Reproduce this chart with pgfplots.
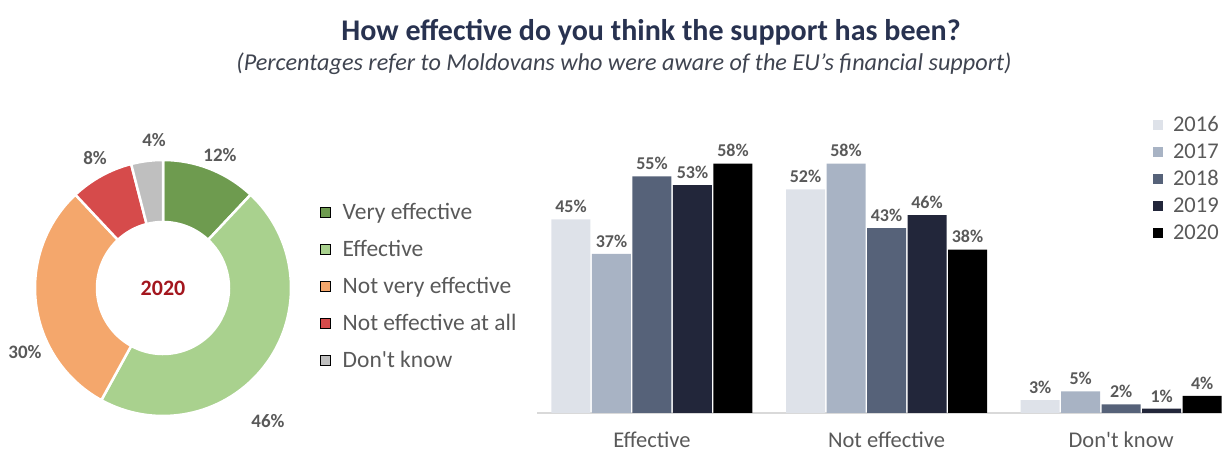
\documentclass[border=0pt]{standalone}
\usepackage{pgfplots}
\usepackage{pgfplotstable}
\pgfplotsset{compat=1.18}
\usepackage{fontspec}
\setmainfont{Carlito}
\definecolor{titlec}{HTML}{283250}
\definecolor{subc}{HTML}{3F4450}
\definecolor{labc}{HTML}{595959}
\definecolor{legc}{HTML}{595959}
\definecolor{cVE}{HTML}{6E9B4F}
\definecolor{cE}{HTML}{A9D18E}
\definecolor{cNV}{HTML}{F4A76C}
\definecolor{cNA}{HTML}{D64B4B}
\definecolor{cDK}{HTML}{BFBFBF}
\definecolor{yr}{HTML}{A3161E}
\definecolor{b16}{HTML}{DEE2E9}
\definecolor{b17}{HTML}{A8B3C4}
\definecolor{b18}{HTML}{566279}
\definecolor{b19}{HTML}{22263A}
\definecolor{b20}{HTML}{000000}
\definecolor{axc}{HTML}{D9D9D9}

\pgfplotstableread{
x y16 y17 y18 y19 y20
0 45 37 55 53 58
1 52 58 43 46 38
2 3 5 2 1 4
}\bardata

% donut shares (2020)
\def\pVE{12}\def\pE{46}\def\pNV{30}\def\pNA{8}\def\pDK{4}
\pgfmathsetmacro\aA{90}
\pgfmathsetmacro\aB{\aA-3.6*\pVE}
\pgfmathsetmacro\aC{\aB-3.6*\pE}
\pgfmathsetmacro\aD{\aC-3.6*\pNV}
\pgfmathsetmacro\aE{\aD-3.6*\pNA}
\pgfmathsetmacro\aF{\aE-3.6*\pDK}
\def\Rout{128}\def\Rin{66}
\newcommand\donutwedge[3]{%
  \fill[#3, draw=white, line width=2.5pt] (axis cs:{\Rout*cos(#1)},{\Rout*sin(#1)})
    arc[start angle=#1, end angle=#2, radius=\Rout pt]
    -- (axis cs:{\Rin*cos(#2)},{\Rin*sin(#2)})
    arc[start angle=#2, end angle=#1, radius=\Rin pt] -- cycle;}

\begin{document}
\begin{tikzpicture}
\useasboundingbox (0,0) rectangle (1225pt,454pt);
\node[font=\fontsize{30}{34}\selectfont\bfseries, text=titlec] at (651pt,422pt) {How effective do you think the support has been?};
\node[font=\fontsize{24.2}{28}\selectfont\itshape, text=subc] at (624pt,390pt) {(Percentages refer to Moldovans who were aware of the EU’s financial support)};

% donut
\begin{axis}[at={(163pt,166pt)}, anchor=center, hide axis, scale only axis,
  x=1pt, y=1pt, xmin=-140, xmax=140, ymin=-140, ymax=140, clip=false,
  legend image code/.code={\fill[#1] (0pt,-5pt) rectangle (10pt,5pt);},
  legend style={at={(axis description cs:1.061,0.811)}, anchor=north west, draw=none, fill=none,
    font=\fontsize{23.5}{26}\selectfont, text=legc, row sep=15.3pt, inner sep=0pt,
    /tikz/every odd column/.append style={column sep=10pt}},
  legend cell align=left]
\addlegendimage{fill=cVE}\addlegendentry{Very effective}
\addlegendimage{fill=cE}\addlegendentry{Effective}
\addlegendimage{fill=cNV}\addlegendentry{Not very effective}
\addlegendimage{fill=cNA}\addlegendentry{Not effective at all}
\addlegendimage{fill=cDK}\addlegendentry{Don\textquotesingle t know}
\donutwedge{\aA}{\aB}{cVE}
\donutwedge{\aB}{\aC}{cE}
\donutwedge{\aC}{\aD}{cNV}
\donutwedge{\aD}{\aE}{cNA}
\donutwedge{\aE}{\aF}{cDK}
\node[font=\fontsize{22}{26}\selectfont\bfseries, text=yr] at (axis cs:0,0) {2020};
\begin{scope}[every node/.style={font=\fontsize{19}{22}\selectfont\bfseries, text=labc}]
\node at (axis cs:57,133) {\pVE\%};
\node at (axis cs:105,-133) {\pE\%};
\node at (axis cs:-138,-64) {\pNV\%};
\node at (axis cs:-68,130) {\pNA\%};
\node at (axis cs:-9,148) {\pDK\%};
\end{scope}
\end{axis}

% bars
\begin{axis}[at={(537pt,41pt)}, anchor=south west, scale only axis,
  width=685pt, height=258pt, xmin=-0.49, xmax=2.43, ymin=0, ymax=60,
  axis x line*=bottom, axis y line=none,
  x axis line style={draw=axc, line width=1.2pt, -},
  xtick={0,1,2}, xticklabels={Effective, Not effective, Don\textquotesingle t know},
  major tick length=0pt,
  xticklabel style={font=\fontsize{22.5}{26}\selectfont, text=legc, yshift=-15pt},
  ybar=1.5pt, bar width=39pt, clip=false,
  /pgf/number format/assume math mode=true,
  nodes near coords={\pgfmathprintnumber{\pgfplotspointmeta}\%},
  every node near coord/.append style={font=\fontsize{18}{21}\selectfont\bfseries, text=labc, yshift=3pt},
  legend image code/.code={\fill[#1] (0pt,-5pt) rectangle (10pt,5pt);},
  legend style={at={(axis description cs:0.899,1.158)}, anchor=north west, draw=none, fill=none,
    font=\fontsize{22.5}{26}\selectfont, text=legc, row sep=6.7pt, inner sep=0pt,
    /tikz/every odd column/.append style={column sep=8pt}},
  legend cell align=left]
\addplot[fill=b16, draw=none] table[x=x, y=y16] {\bardata};
\addplot[fill=b17, draw=none] table[x=x, y=y17] {\bardata};
\addplot[fill=b18, draw=none] table[x=x, y=y18] {\bardata};
\addplot[fill=b19, draw=none] table[x=x, y=y19] {\bardata};
\addplot[fill=b20, draw=none] table[x=x, y=y20] {\bardata};
\legend{2016,2017,2018,2019,2020}
\end{axis}
\end{tikzpicture}
\end{document}
